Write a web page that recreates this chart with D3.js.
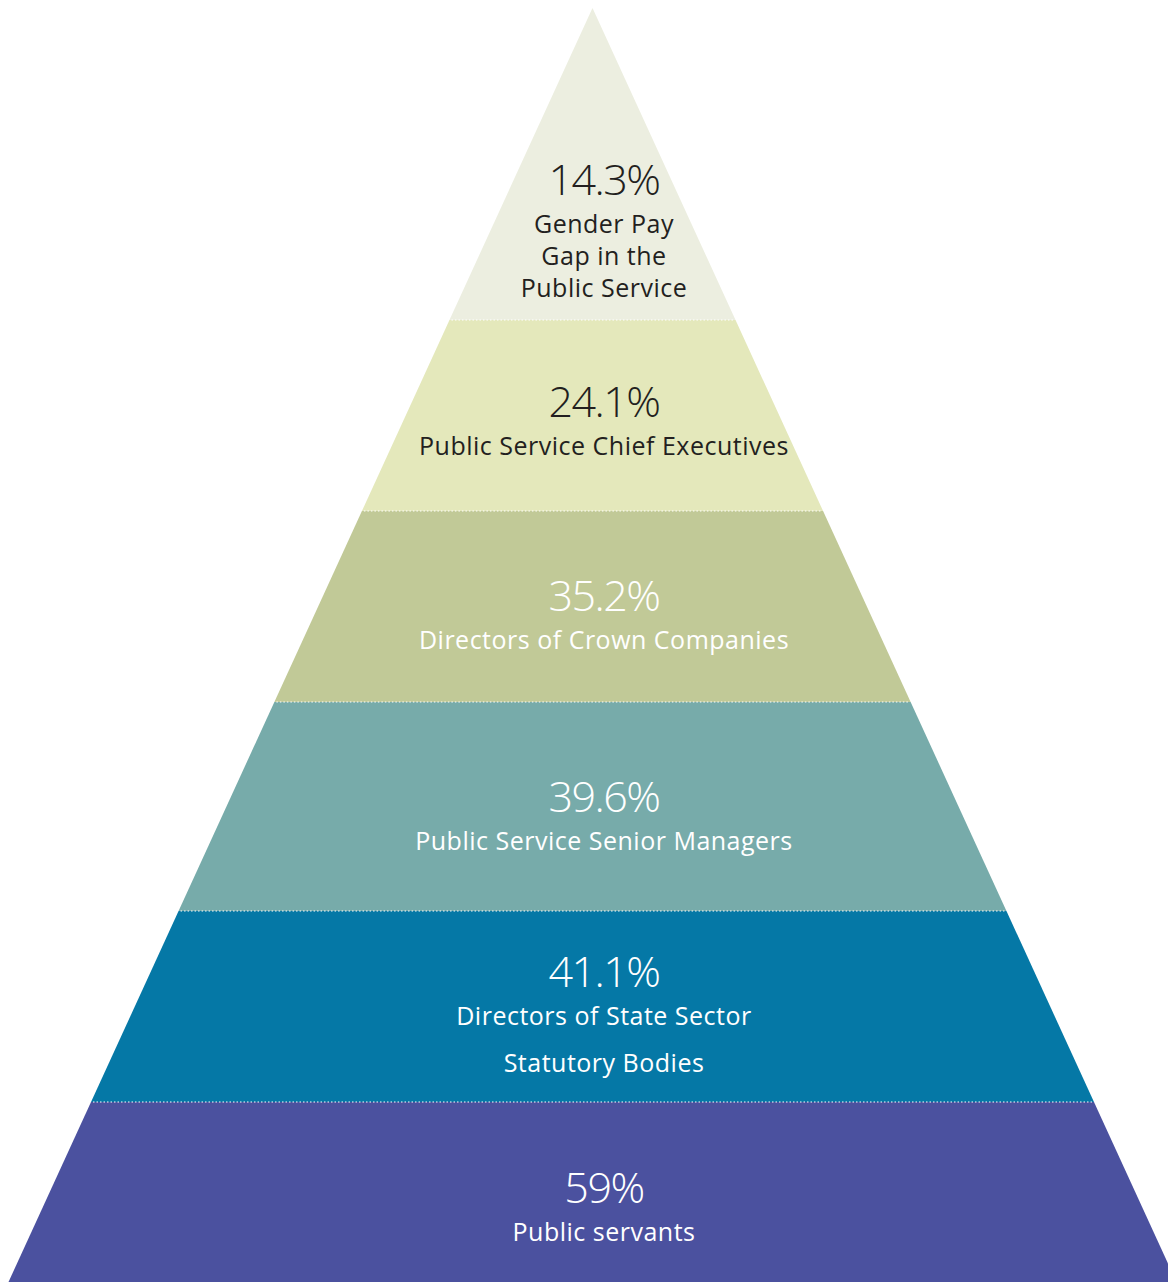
<!DOCTYPE html>
<html><head><meta charset="utf-8">
<script src="https://cdn.jsdelivr.net/npm/d3@7"></script>
<style>html,body{margin:0;padding:0;background:#fff;}svg{display:block;}</style>
</head><body>
<svg id="chart" width="1168" height="1282"></svg>
<script>
const values = [14.3, 24.1, 35.2, 39.6, 41.1, 59];
const labels = [
  ["Gender Pay", "Gap in the", "Public Service"],
  ["Public Service Chief Executives"],
  ["Directors of Crown Companies"],
  ["Public Service Senior Managers"],
  ["Directors of State Sector", "Statutory Bodies"],
  ["Public servants"]
];
const fills = ["#ECEEE0", "#E4E8BB", "#C1C997", "#77ABAA", "#0578A6", "#4B519F"];
const textColors = ["#231f20", "#231f20", "#ffffff", "#ffffff", "#ffffff", "#ffffff"];

const svg = d3.select("#chart");
const W = 1168, H = 1282;
const apexX = 592.5, apexY = 8;

// tier boundaries (tier index -> y); tier 0 starts at the apex
const y = d3.scaleLinear().domain([0,1,2,3,4,5,6]).range([apexY, 320, 511, 702, 911, 1102, 1282]);
// half-width of pyramid at a given y
const hw = d3.scaleLinear().domain([apexY, 1282]).range([0, 584]);

const tiers = values.map((v, i) => ({v, i, lines: labels[i], fill: fills[i], tc: textColors[i]}));

const g = svg.append("g");
g.selectAll("path.tier").data(tiers).join("path")
  .attr("class", "tier")
  .attr("fill", d => d.fill)
  .attr("d", d => {
    const y0 = y(d.i), y1 = y(d.i + 1);
    const pts = [[apexX - hw(y0), y0], [apexX + hw(y0), y0], [apexX + hw(y1), y1], [apexX - hw(y1), y1]];
    return d3.line()(pts) + "Z";
  });

// dotted separators
g.selectAll("line.sep").data(d3.range(1, 6)).join("line")
  .attr("class", "sep")
  .attr("x1", i => apexX - hw(y(i)) + 2)
  .attr("x2", i => apexX + hw(y(i)) - 2)
  .attr("y1", i => y(i)).attr("y2", i => y(i))
  .attr("stroke", "#ffffff").attr("stroke-width", 1.2)
  .attr("stroke-dasharray", "1.5,2");

const cx = 604;
const numBase = [195, 417, 611, 812, 987, 1203];
const fmt = v => (Number.isInteger(v) ? v.toString() : v.toFixed(1)) + "%";

const tg = g.selectAll("g.lab").data(tiers).join("g").attr("class", "lab");
tg.append("text")
  .attr("x", cx).attr("y", d => numBase[d.i])
  .attr("text-anchor", "middle")
  .attr("font-family", "Open Sans, sans-serif")
  .attr("font-size", 43).attr("font-weight", 300)
  .attr("letter-spacing", -1.5)
  .attr("fill", d => d.tc)
  .text(d => fmt(d.v));

tg.each(function(d) {
  const gap = d.lines.length > 1 && d.i === 4 ? 47 : 32;
  d3.select(this).selectAll("text.l").data(d.lines).join("text")
    .attr("class", "l")
    .attr("x", cx)
    .attr("y", (t, k) => numBase[d.i] + 38 + k * gap)
    .attr("text-anchor", "middle")
    .attr("font-family", "Open Sans, sans-serif")
    .attr("font-size", 25)
    .attr("letter-spacing", 0.5)
    .attr("fill", d.tc)
    .text(t => t);
});
</script>
</body></html>
